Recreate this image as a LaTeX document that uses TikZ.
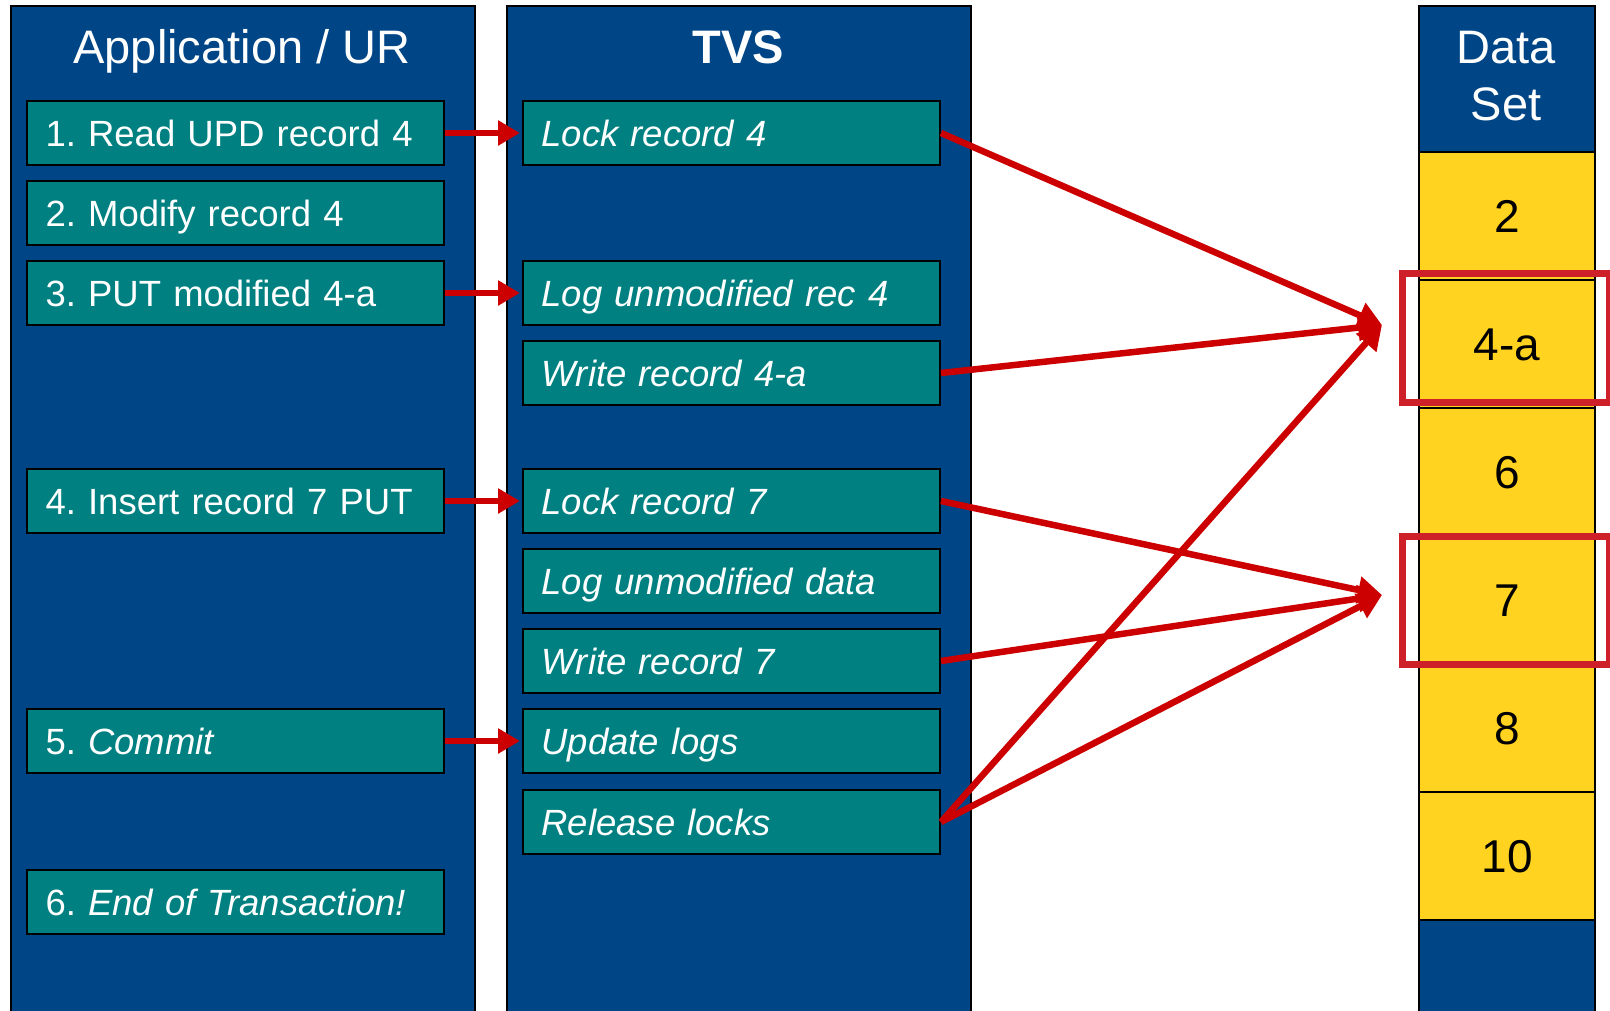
\documentclass[tikz,border=0pt]{standalone}
\usepackage{fontspec}
\setmainfont{Liberation Sans}
\usetikzlibrary{arrows.meta}
\definecolor{panelblue}{HTML}{004586}
\definecolor{boxteal}{HTML}{008080}
\definecolor{cellyellow}{HTML}{FFD320}
\definecolor{arrowred}{HTML}{CC0000}
\definecolor{hlred}{HTML}{CE2029}
\frenchspacing
\begin{document}
\begin{tikzpicture}[x=1pt,y=-1pt,
  panel/.style={draw=black, line width=1.5pt, fill=panelblue, anchor=north west, inner sep=0pt, minimum width=464pt, minimum height=1030pt},
  tbox/.style={draw=black, line width=2pt, fill=boxteal, text=white, minimum height=64pt, text width=385pt, inner xsep=16pt, inner ysep=0pt, align=left, text height=27pt, text depth=0pt, font=\fontsize{36.5}{44}\selectfont\frenchspacing, anchor=west},
  ttext/.style={font=\fontsize{36.5}{44}\selectfont\itshape\frenchspacing},
  title/.style={text=white, anchor=base, inner sep=0pt, font=\fontsize{47}{56}\selectfont},
  cell/.style={draw=black, line width=2pt, fill=cellyellow, anchor=north west, minimum width=176pt, minimum height=128pt, inner sep=0pt, text height=33pt, text depth=0pt, font=\fontsize{46}{55}\selectfont},
  dsblue/.style={draw=black, line width=2pt, fill=panelblue, anchor=north west, minimum width=176pt, inner sep=0pt},
  shortarrow/.style={draw=arrowred, line width=6.5pt, -{Triangle[length=22pt,width=24pt]}, shorten >=2pt},
  longarrow/.style={draw=arrowred, line width=6.5pt, -{Triangle[length=24pt,width=26pt]}},
  highlight/.style={draw=hlred, line width=7pt}
]
\clip (0,0) rectangle (1610,1010);
\fill[white] (0,0) rectangle (1610,1010);

% panels
\node[panel] (app) at (10,5) {};
\node[panel] (tvs) at (506,5) {};
\node[title] (apptitle) at (242,63) {Application / UR};
\node[title, font=\fontsize{47}{56}\selectfont\bfseries] (tvstitle) at (738,63) {TVS};

% application boxes
\node[tbox] (a1) at (26,133) {\hspace{2.5pt}1. Read UPD record 4};
\node[tbox] (a2) at (26,213) {\hspace{2.5pt}2. Modify record 4};
\node[tbox] (a3) at (26,293) {\hspace{2.5pt}3. PUT modified 4-a};
\node[tbox] (a4) at (26,501) {\hspace{2.5pt}4. Insert record 7 PUT};
\node[tbox] (a5) at (26,741) {\hspace{2.5pt}5. \textit{Commit}};
\node[tbox] (a6) at (26,902) {\hspace{2.5pt}6. \textit{End of Transaction!}};

% TVS boxes
\node[tbox, ttext] (t1) at (522,133) {\hspace{2.5pt}Lock record 4};
\node[tbox, ttext] (t2) at (522,293) {\hspace{2.5pt}Log unmodified rec 4};
\node[tbox, ttext] (t3) at (522,373) {\hspace{2.5pt}Write record 4-a};
\node[tbox, ttext] (t4) at (522,501) {\hspace{2.5pt}Lock record 7};
\node[tbox, ttext] (t5) at (522,581) {\hspace{2.5pt}Log unmodified data};
\node[tbox, ttext] (t6) at (522,661) {\hspace{2.5pt}Write record 7};
\node[tbox, ttext] (t7) at (522,741) {\hspace{2.5pt}Update logs};
\node[tbox, ttext] (t8) at (522,822) {\hspace{2.5pt}Release locks};

% data set column
\node[dsblue, minimum height=146pt] (dshead) at (1418,5) {};
\node[title] (dsdata) at (1506,63) {Data};
\node[title] (dsset) at (1506,120) {Set};
\node[cell] (c2) at (1418,151) {2};
\node[cell] (c4) at (1418,279) {4-a};
\node[cell] (c6) at (1418,407) {6};
\node[cell] (c7) at (1418,535) {7};
\node[cell] (c8) at (1418,663) {8};
\node[cell] (c10) at (1418,791) {10};
\node[dsblue, minimum height=110pt] (dsfoot) at (1418,919) {};

% highlights
\draw[highlight] (1402,273) rectangle (1609.5,402);
\draw[highlight] (1402,536) rectangle (1609.5,664);

% short arrows
\draw[shortarrow] (a1.east) -- (t1.west);
\draw[shortarrow] (a3.east) -- (t2.west);
\draw[shortarrow] (a4.east) -- (t4.west);
\draw[shortarrow] (a5.east) -- (t7.west);

% long arrows
\coordinate (tip4) at (1382,325);
\coordinate (tip7) at (1382,595);
\draw[longarrow] (t1.east) -- (tip4);
\draw[longarrow] (t3.east) -- (tip4);
\draw[longarrow] (t4.east) -- (tip7);
\draw[longarrow] (t6.east) -- (tip7);
\draw[longarrow] (t8.east) -- (tip7);
\draw[longarrow] (t8.east) -- (tip4);
\end{tikzpicture}
\end{document}
